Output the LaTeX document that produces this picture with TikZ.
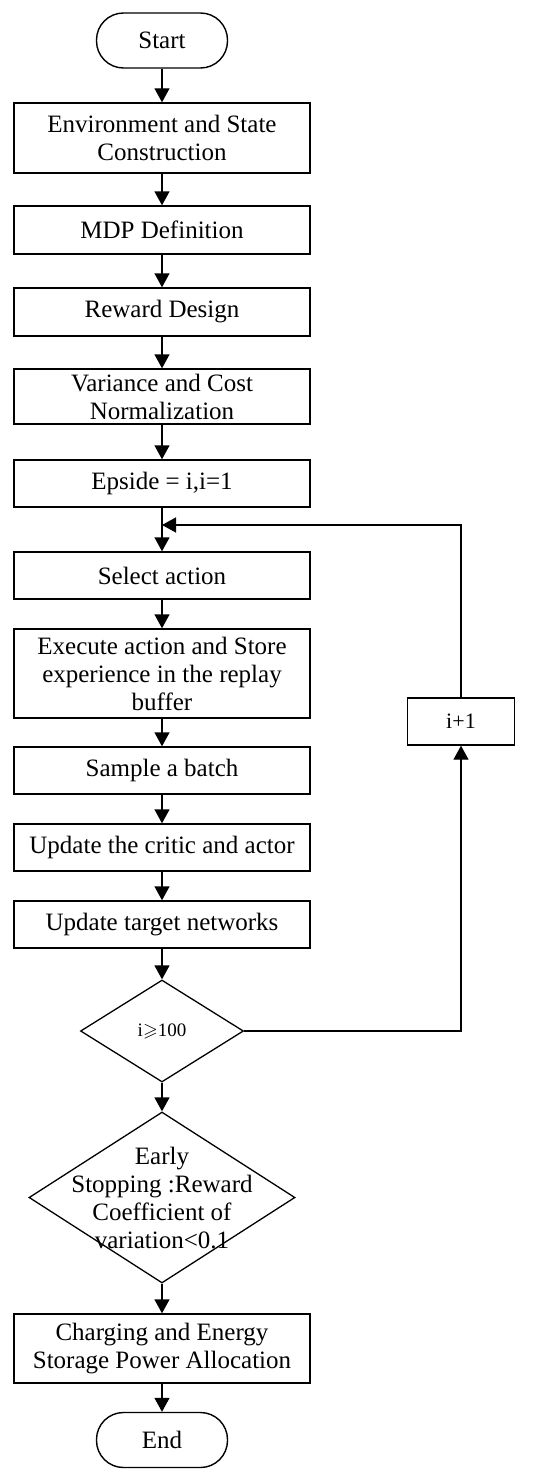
\documentclass[tikz,border=0pt]{standalone}
\usepackage{amsmath}
\usepackage{amssymb}
\usepackage{fontspec}
\setmainfont{Liberation Serif}
\usetikzlibrary{arrows.meta,shapes.geometric}

\begin{document}
\begin{tikzpicture}[x=1pt,y=1pt,yscale=-1,xscale=1,
  every node/.style={font=\fontsize{25}{28}\selectfont},
  box/.style={draw, line width=1.4pt, rectangle, minimum width=296pt, align=center, inner sep=2pt},
  term/.style={draw, line width=1.4pt, rectangle, rounded corners=27pt, minimum width=131pt, minimum height=55pt},
  decide/.style={draw, line width=1.3pt, diamond, inner sep=0pt},
  arr/.style={line width=1.4pt, -{Triangle[length=14pt,width=15pt]}}]
\useasboundingbox (0,0) rectangle (550,1477);
\node [term] (start) at (162,40.5) {Start};
\node [box, minimum height=70pt] (env) at (162,138) {Environment and State\\Construction};
\node [box, minimum height=48pt] (mdp) at (162,230) {MDP Definition};
\node [box, minimum height=48pt] (rew) at (162,312) {Reward Design};
\node [box, minimum height=55pt] (norm) at (162,396.5) {Variance and Cost\\Normalization};
\node [box, minimum height=47pt] (epi) at (162,483.5) {Epside = i,i=1};
\node [box, minimum height=47pt] (sel) at (162,575.5) {Select action};
\node [box, minimum height=89pt] (exe) at (162,673.5) {Execute action and Store\\experience in the replay\\buffer};
\node [box, minimum height=47pt] (smp) at (162,770.5) {Sample a batch};
\node [box, minimum height=47pt] (upd) at (162,847.5) {Update the critic and actor};
\node [box, minimum height=47pt] (tgt) at (162,924.5) {Update target networks};
\node [decide, minimum width=163pt, minimum height=102pt, font=\fontsize{19}{22}\selectfont] (chk) at (162,1031) {i$\geqslant$100};
\node [decide, minimum width=266pt, minimum height=171pt,
  label={[align=center]center:Early\\Stopping :Reward\\Coefficient of\\variation<0.1}] (stop) at (162,1197.5) {};
\node [box, minimum height=69pt] (alloc) at (162,1348.5) {Charging and Energy\\Storage Power Allocation};
\node [term] (end) at (162,1440) {End};
\node [draw, line width=1.4pt, rectangle, minimum width=107pt, minimum height=47pt, font=\fontsize{22}{24}\selectfont] (inc) at (461,721.5) {i+1};
\coordinate (j) at (162,525);
\draw [arr] (start) -- (env);
\draw [arr] (env) -- (mdp);
\draw [arr] (mdp) -- (rew);
\draw [arr] (rew) -- (norm);
\draw [arr] (norm) -- (epi);
\draw [arr] (epi) -- (sel);
\draw [arr] (sel) -- (exe);
\draw [arr] (exe) -- (smp);
\draw [arr] (smp) -- (upd);
\draw [arr] (upd) -- (tgt);
\draw [arr] (tgt) -- (chk);
\draw [arr] (chk) -- (stop);
\draw [arr] (stop) -- (alloc);
\draw [arr] (alloc) -- (end);
\draw [arr] (chk.east) -| (inc.south);
\draw [arr] (inc.north) |- (j);
\end{tikzpicture}
\end{document}
